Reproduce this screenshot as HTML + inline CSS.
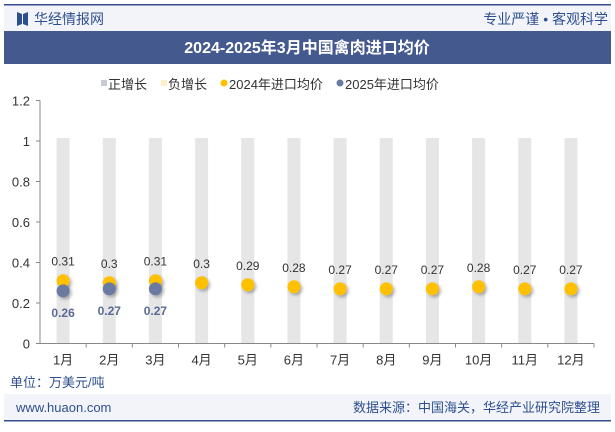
<!DOCTYPE html>
<html><head><meta charset="utf-8"><style>
body{margin:0;width:615px;height:427px;background:#fff;overflow:hidden;font-family:"Liberation Sans","Noto Sans CJK SC",sans-serif;}
</style></head><body>
<svg width="615" height="427" xmlns="http://www.w3.org/2000/svg" font-family="Liberation Sans, Noto Sans CJK SC, sans-serif">
<defs><filter id="sh" x="-50%" y="-50%" width="200%" height="200%"><feDropShadow dx="2" dy="2" stdDeviation="1.5" flood-color="#000" flood-opacity="0.3"/></filter></defs>
<rect x="4" y="5" width="607" height="26" fill="#f3f4f9"/>
<rect x="4" y="4" width="607" height="1.5" fill="#344d8c"/>
<path d="M17 12 L22 14 L22 24 L17 26 Z M28 12 L23 14 L23 24 L28 26 Z" fill="#2e4f8f"/>
<text x="34" y="24" font-size="14" fill="#2e4f8f">华经情报网</text>
<text x="608" y="24" font-size="14" fill="#2e4f8f" text-anchor="end">专业严谨 • 客观科学</text>
<rect x="4" y="31" width="607" height="33" fill="#445a8f"/>
<text x="307" y="53" font-size="16" font-weight="bold" fill="#fff" text-anchor="middle">2024-2025年3月中国禽肉进口均价</text>
<g font-size="13" fill="#333">
<rect x="101" y="80" width="6" height="6" fill="#c8cad6"/><text x="108" y="89">正增长</text>
<rect x="161" y="80" width="6" height="6" fill="#fdf0c8"/><text x="168" y="89">负增长</text>
<circle cx="224" cy="83" r="3.5" fill="#ffc000"/><text x="229" y="89">2024年进口均价</text>
<circle cx="340" cy="83" r="3.5" fill="#6a7aa0"/><text x="345" y="89">2025年进口均价</text>
</g>
<g id="chart"></g>
<text x="10" y="387" font-size="13" fill="#2e4f8f">单位：万美元/吨</text>
<rect x="4" y="394" width="607" height="27" fill="#f3f4f9"/>
<rect x="4" y="420" width="607" height="1.5" fill="#344d8c"/>
<text x="16" y="412" font-size="13" fill="#2e4f8f">www.huaon.com</text>
<text x="600" y="412" font-size="13" fill="#2e4f8f" text-anchor="end">数据来源：中国海关，华经产业研究院整理</text>
</svg>
<script>
const categories=["1月","2月","3月","4月","5月","6月","7月","8月","9月","10月","11月","12月"];
const growthBars=[1,1,1,1,1,1,1,1,1,1,1,1];
const price2024=[0.31,0.3,0.31,0.3,0.29,0.28,0.27,0.27,0.27,0.28,0.27,0.27];
const price2025=[0.26,0.27,0.27];
const yTicks=[0,0.2,0.4,0.6,0.8,1,1.2];
const NS="http://www.w3.org/2000/svg";
const g=document.getElementById('chart');
const x0=40,x1=594,yb=343.5,yt=100.5,ymax=1.2;
const bw=(x1-x0)/categories.length;
const xc=i=>x0+bw*(i+0.5);
const y=v=>yb-(v/ymax)*(yb-yt);
function mk(t,a,p){const e=document.createElementNS(NS,t);for(const k in a)e.setAttribute(k,a[k]);(p||g).appendChild(e);return e;}
yTicks.forEach(v=>{const t=mk('text',{x:30,y:y(v)+5,'font-size':13,fill:'#333','text-anchor':'end'});t.textContent=String(v);

});
const ya=mk('line',{x1:x0,y1:yt,x2:x0,y2:yb,stroke:'#888'});


yTicks.forEach(v=>{mk('line',{x1:x0-4,y1:y(v),x2:x0,y2:y(v),stroke:'#888'});});
growthBars.forEach((v,i)=>{const r=mk('rect',{x:xc(i)-6.5,y:y(v)-3,width:13,height:yb-y(v)+3,fill:'#e6e6e6'});

});
const xa=mk('line',{x1:x0,y1:yb,x2:x1,y2:yb,stroke:'#888'});


categories.forEach((c,i)=>{mk('line',{x1:x0+bw*(i+1),y1:yb,x2:x0+bw*(i+1),y2:yb+4,stroke:'#888'});
const t=mk('text',{x:xc(i),y:yb+21,'font-size':13,fill:'#333','text-anchor':'middle'});t.textContent=c;

});
price2024.forEach((v,i)=>{const c=mk('circle',{cx:xc(i),cy:y(v),r:6.5,fill:'#ffc000',filter:'url(#sh)'});


const t=mk('text',{x:xc(i),y:y(v)-15,'font-size':12,fill:'#333','text-anchor':'middle'});t.textContent=String(v);

});
price2025.forEach((v,i)=>{const c=mk('circle',{cx:xc(i),cy:y(v),r:6.5,fill:'#6a7aa0',filter:'url(#sh)'});


const t=mk('text',{x:xc(i),y:y(v)+26,'font-size':12,'font-weight':'bold',fill:'#5a6a94','text-anchor':'middle'});t.textContent=String(v);

});
</script>
</body></html>
